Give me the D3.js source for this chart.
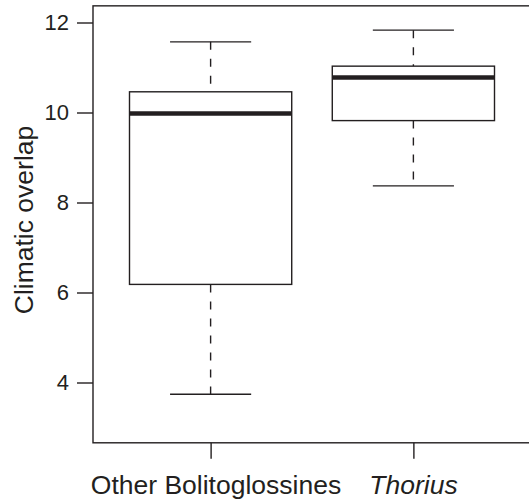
<!DOCTYPE html>
<html>
<head>
<meta charset="utf-8">
<script src="https://cdn.jsdelivr.net/npm/d3@7"></script>
<style>
  body { margin: 0; background: #fff; }
  text { font-family: "Liberation Sans", Arial, sans-serif; fill: #231f20; }
</style>
</head>
<body>
<svg id="chart" width="529" height="499"></svg>
<script>
// box stats
const groups = ["Other Bolitoglossines", "Thorius"];
const lowerWhisker = [3.74, 8.37];
const q1 = [6.18, 9.82];
const medians = [9.98, 10.78];
const q3 = [10.46, 11.03];
const upperWhisker = [11.57, 11.83];
const yTicks = [4, 6, 8, 10, 12];

const ink = "#231f20";
const svg = d3.select("#chart");

// R-style extended ranges
const x = d3.scaleLinear().domain([0.42, 2.58]).range([93, 531]);
const y = d3.scaleLinear().domain([4, 12]).range([382.5, 22.5]);
const yLo = 2.66, yHi = 12.37;

const boxHalf = 0.4, capHalf = 0.2;

// frame
svg.append("rect")
  .attr("x", x(0.42)).attr("y", y(yHi))
  .attr("width", x(2.58) - x(0.42)).attr("height", y(yLo) - y(yHi))
  .attr("fill", "none").attr("stroke", ink).attr("stroke-width", 1.4);

// y axis
const yAxis = svg.append("g")
  .attr("transform", `translate(${x(0.42)},0)`)
  .call(d3.axisLeft(y).tickValues(yTicks).tickSize(16).tickPadding(8).tickFormat(d3.format("d")));
yAxis.select(".domain").remove();
yAxis.selectAll("line").attr("stroke", ink).attr("stroke-width", 1.4);
yAxis.selectAll("text").attr("font-size", 22).attr("fill", ink)
  .attr("font-family", "Liberation Sans, Arial, sans-serif");

// x axis ticks
const xAxis = svg.append("g")
  .attr("transform", `translate(0,${y(yLo)})`)
  .call(d3.axisBottom(x).tickValues([1, 2]).tickSize(16).tickFormat(""));
xAxis.select(".domain").remove();
xAxis.selectAll("line").attr("stroke", ink).attr("stroke-width", 1.4);

// category labels
const labelX = [216, 413.5];
svg.selectAll("text.cat")
  .data(groups)
  .join("text")
  .attr("class", "cat")
  .attr("x", (d, i) => labelX[i])
  .attr("y", 494)
  .attr("text-anchor", "middle")
  .attr("font-size", 26.5)
  .attr("font-style", (d, i) => i === 1 ? "italic" : "normal")
  .text(d => d);

// y title
svg.append("text")
  .attr("transform", `translate(33,220) rotate(-90)`)
  .attr("text-anchor", "middle")
  .attr("font-size", 26.5)
  .text("Climatic overlap");

// boxes
const boxes = svg.append("g").selectAll("g")
  .data(groups.map((g, i) => ({
    pos: i + 1, lo: lowerWhisker[i], q1: q1[i], med: medians[i], q3: q3[i], hi: upperWhisker[i]
  })))
  .join("g");

// dashed whiskers
boxes.append("line")
  .attr("x1", d => x(d.pos)).attr("x2", d => x(d.pos))
  .attr("y1", d => y(d.hi)).attr("y2", d => y(d.q3))
  .attr("stroke", ink).attr("stroke-width", 1.4).attr("stroke-dasharray", "8,9");
boxes.append("line")
  .attr("x1", d => x(d.pos)).attr("x2", d => x(d.pos))
  .attr("y1", d => y(d.q1)).attr("y2", d => y(d.lo))
  .attr("stroke", ink).attr("stroke-width", 1.4).attr("stroke-dasharray", "8,9");

// caps
boxes.append("line")
  .attr("x1", d => x(d.pos - capHalf)).attr("x2", d => x(d.pos + capHalf))
  .attr("y1", d => y(d.hi)).attr("y2", d => y(d.hi))
  .attr("stroke", ink).attr("stroke-width", 1.4);
boxes.append("line")
  .attr("x1", d => x(d.pos - capHalf)).attr("x2", d => x(d.pos + capHalf))
  .attr("y1", d => y(d.lo)).attr("y2", d => y(d.lo))
  .attr("stroke", ink).attr("stroke-width", 1.4);

// box
boxes.append("rect")
  .attr("x", d => x(d.pos - boxHalf))
  .attr("width", d => x(d.pos + boxHalf) - x(d.pos - boxHalf))
  .attr("y", d => y(d.q3))
  .attr("height", d => y(d.q1) - y(d.q3))
  .attr("fill", "#fff").attr("stroke", ink).attr("stroke-width", 1.4);

// median
boxes.append("line")
  .attr("x1", d => x(d.pos - boxHalf)).attr("x2", d => x(d.pos + boxHalf))
  .attr("y1", d => y(d.med)).attr("y2", d => y(d.med))
  .attr("stroke", ink).attr("stroke-width", 4.5);
</script>
</body>
</html>
